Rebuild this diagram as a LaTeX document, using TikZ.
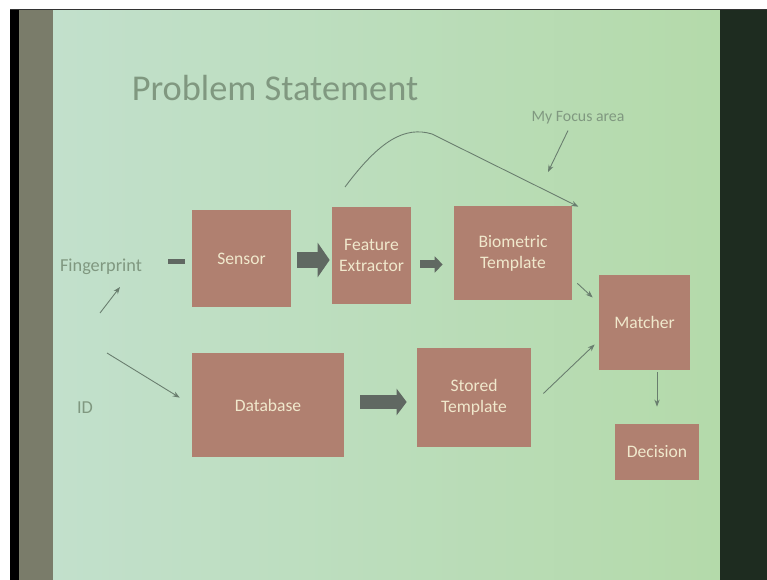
\documentclass[tikz,border=0pt]{standalone}
\usepackage{fontspec}
\setmainfont{Carlito}
\usetikzlibrary{arrows.meta,calc}
\definecolor{slideL}{RGB}{194,224,204}
\definecolor{slideR}{RGB}{180,218,170}
\definecolor{boxfill}{RGB}{176,128,112}
\definecolor{boxtext}{RGB}{240,232,204}
\definecolor{titlegrey}{RGB}{128,152,128}
\definecolor{linegrey}{RGB}{105,125,110}
\definecolor{fatgrey}{RGB}{96,104,98}
\definecolor{wallgrey}{RGB}{122,124,106}
\definecolor{walldark}{RGB}{30,44,32}

\begin{document}
\begin{tikzpicture}[x=0.02cm,y=-0.02cm,
    block/.style={rectangle,fill=boxfill,text=boxtext,align=center,
      font=\fontsize{10}{12}\selectfont},
    lbl/.style={text=titlegrey,font=\fontsize{10.4}{12}\selectfont},
    thinarr/.style={draw=linegrey,line width=0.5pt,-{Stealth[length=4pt,width=3pt]}},
    fat/.style={draw=fatgrey,fill=fatgrey,line width=#1}]

      \useasboundingbox (0,0) rectangle (767,580);
      \fill[white] (0,0) rectangle (767,580);
      \fill[black] (10,9) rectangle (19,580);
      \fill[wallgrey] (19,9) rectangle (53,580);
      \shade[left color=slideL,right color=slideR] (53,10) rectangle (720,580);
      \fill[walldark] (720,9) rectangle (767,580);
      \fill[black!80] (10,9) rectangle (767,10.5);

      \node[text=titlegrey,font=\fontsize{20.7}{24}\selectfont] (title) at (275,88) {Problem Statement};

      \begin{scope}[every node/.style={block}]
        \node[minimum width=1.98cm,minimum height=1.94cm] (sensor) at (241.5,258.5) {Sensor};
        \node[minimum width=1.58cm,minimum height=1.94cm] (feat)   at (371.5,255.5) {Feature\\Extractor};
        \node[minimum width=2.36cm,minimum height=1.88cm] (bio)    at (513,253)     {Biometric\\Template};
        \node[minimum width=1.82cm,minimum height=1.90cm] (match)  at (644.5,322.5) {Matcher};
        \node[minimum width=1.68cm,minimum height=1.12cm] (dec)    at (657,452)     {Decision};
        \node[minimum width=2.28cm,minimum height=1.98cm] (stored) at (474,397.5)   {Stored\\Template};
        \node[minimum width=3.04cm,minimum height=2.08cm] (db)     at (268,405)     {Database};
      \end{scope}

      \begin{scope}[every node/.style={lbl}]
        \node (fp)    at (101,267) {Fingerprint};
        \node (id)    at (85,408)  {ID};
        \node[font=\fontsize{9}{11}\selectfont] (focus) at (578,118) {My Focus area};
      \end{scope}

      \coordinate (fpfoot)    at (100,313);
      \coordinate (fptip)     at (120,287);
      \coordinate (idtop)     at (107,353);
      \coordinate (dashstart) at (168,262);
      \coordinate (arcstart)  at (345,187);
      \coordinate (focustip)  at (548,172);

      \draw[fat=0.1cm,fill=none,shorten >=0.14cm] (dashstart) -- (dashstart -| sensor.west);
      \draw[fat=0.32cm,-{Triangle[length=0.24cm,width=0.68cm]},shorten <=0.12cm,shorten >=0.04cm]
        ($(sensor.east)+(0,1.5)$) -- ($(sensor.east -| feat.west)+(0,1.5)$);
      \draw[fat=0.16cm,-{Triangle[length=0.16cm,width=0.32cm]},shorten <=0.18cm,shorten >=0.22cm]
        ($(feat.east)+(0,9)$) -- ($(feat.east -| bio.west)+(0,9)$);
      \draw[fat=0.3cm,-{Triangle[length=0.2cm,width=0.52cm]},shorten <=0.32cm,shorten >=0.2cm]
        ($(db.east)+(0,-3)$) -- ($(db.east -| stored.west)+(0,-3)$);

      \draw[thinarr] (fpfoot) -- (fptip);
      \draw[thinarr,shorten >=0.28cm] (idtop) -- (db.west);
      \draw[thinarr] ($(bio.south east)+(5,-17)$) -- ($(match.west)+(-6,-25)$);
      \draw[thinarr] ($(stored.east)+(12,-4)$) -- ($(match.west)+(-4,22)$);
      \draw[thinarr] ($(match.south -| dec.north)+(0,2)$) -- ($(dec.north)+(0,-17)$);
      \draw[thinarr] ([xshift=-0.2cm]focus.south) -- (focustip);
      \draw[thinarr] (arcstart) .. controls (380,140) and (405,126) .. (432,134)
        -- ($(bio.north east)+(6,1)$);

    \end{tikzpicture}
\end{document}
